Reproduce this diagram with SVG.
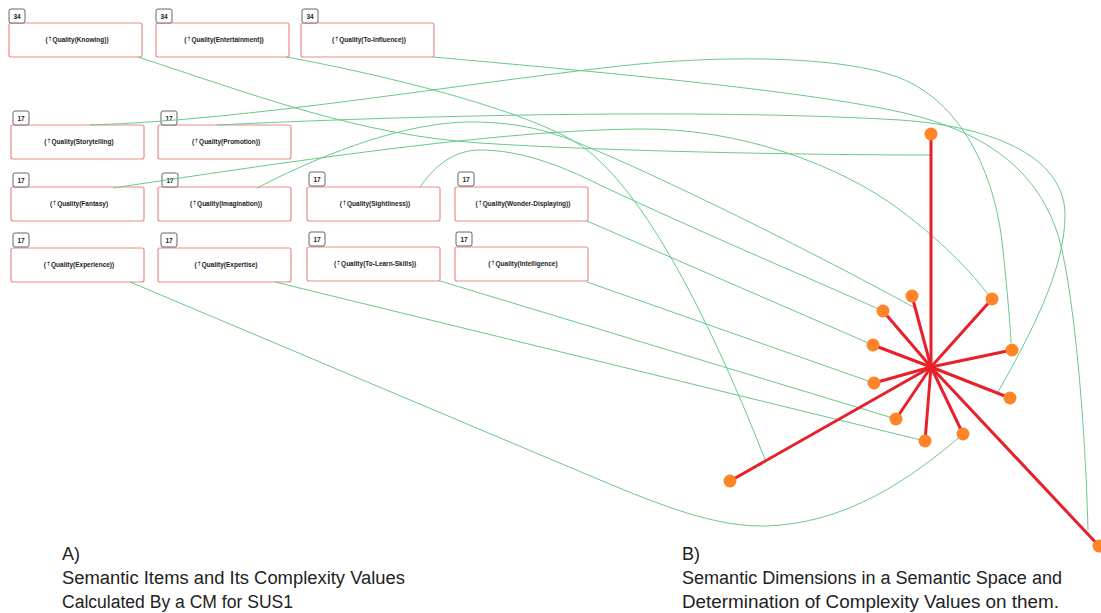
<svg xmlns="http://www.w3.org/2000/svg" width="1101" height="613" viewBox="0 0 1101 613">
<style>
.box{fill:#fff;stroke:#ef8a8a;stroke-width:1.2}
.badge{fill:#fff;stroke:#666;stroke-width:1}
.lbl{font-family:"Liberation Sans",Arial,sans-serif;font-size:6.5px;font-weight:bold;fill:#222;text-anchor:middle}
.sup{font-size:6px;font-weight:normal;font-family:"DejaVu Sans",sans-serif}
.num{font-family:"Liberation Sans",Arial,sans-serif;font-size:6.5px;font-weight:bold;fill:#222;text-anchor:middle}
.conn{fill:none;stroke:#68c987;stroke-width:1}
.spoke{stroke:#e8202a;stroke-width:3;stroke-linecap:round}
.dot{fill:#ff8427}
.cap{font-family:"Liberation Sans",Arial,sans-serif;font-size:18px;fill:#222}
</style>
<rect width="1101" height="613" fill="#fff"/>

<g id="node-knowing"><rect class="box" x="9" y="23" width="133" height="34" rx="2"/><rect class="badge" x="9" y="9" width="16" height="14" rx="2"/><text class="num" x="17" y="18.5">34</text><text class="lbl" x="77" y="42">(<tspan class="sup" dy="-1.5">↑</tspan><tspan dy="1.5">Quality(Knowing))</tspan></text></g>
<g id="node-entertainment"><rect class="box" x="156" y="23" width="133" height="34" rx="2"/><rect class="badge" x="156" y="9" width="16" height="14" rx="2"/><text class="num" x="164" y="18.5">34</text><text class="lbl" x="224" y="42">(<tspan class="sup" dy="-1.5">↑</tspan><tspan dy="1.5">Quality(Entertainment))</tspan></text></g>
<g id="node-to-influence"><rect class="box" x="301" y="23" width="133" height="34" rx="2"/><rect class="badge" x="302" y="9" width="16" height="14" rx="2"/><text class="num" x="310" y="18.5">34</text><text class="lbl" x="369" y="42">(<tspan class="sup" dy="-1.5">↑</tspan><tspan dy="1.5">Quality(To-Influence))</tspan></text></g>

<g id="node-storytelling"><rect class="box" x="11" y="125" width="133" height="34" rx="2"/><rect class="badge" x="13" y="111" width="16" height="14" rx="2"/><text class="num" x="21" y="120.5">17</text><text class="lbl" x="79" y="144">(<tspan class="sup" dy="-1.5">↑</tspan><tspan dy="1.5">Quality(Storytelling)</tspan></text></g>
<g id="node-promotion"><rect class="box" x="158" y="125" width="133" height="34" rx="2"/><rect class="badge" x="161" y="111" width="16" height="14" rx="2"/><text class="num" x="169" y="120.5">17</text><text class="lbl" x="226" y="144">(<tspan class="sup" dy="-1.5">↑</tspan><tspan dy="1.5">Quality(Promotion))</tspan></text></g>

<g id="node-fantasy"><rect class="box" x="11" y="187" width="133" height="34" rx="2"/><rect class="badge" x="13" y="173" width="16" height="14" rx="2"/><text class="num" x="21" y="182.5">17</text><text class="lbl" x="79" y="206">(<tspan class="sup" dy="-1.5">↑</tspan><tspan dy="1.5">Quality(Fantasy)</tspan></text></g>
<g id="node-imagination"><rect class="box" x="158" y="187" width="133" height="34" rx="2"/><rect class="badge" x="162" y="173" width="16" height="14" rx="2"/><text class="num" x="170" y="182.5">17</text><text class="lbl" x="226" y="206">(<tspan class="sup" dy="-1.5">↑</tspan><tspan dy="1.5">Quality(Imagination))</tspan></text></g>
<g id="node-sightliness"><rect class="box" x="307" y="187" width="133" height="34" rx="2"/><rect class="badge" x="309" y="172" width="16" height="14" rx="2"/><text class="num" x="317" y="181.5">17</text><text class="lbl" x="375" y="206">(<tspan class="sup" dy="-1.5">↑</tspan><tspan dy="1.5">Quality(Sightliness))</tspan></text></g>
<g id="node-wonder-displaying"><rect class="box" x="455" y="187" width="133" height="34" rx="2"/><rect class="badge" x="458" y="172" width="16" height="14" rx="2"/><text class="num" x="466" y="181.5">17</text><text class="lbl" x="523" y="206">(<tspan class="sup" dy="-1.5">↑</tspan><tspan dy="1.5">Quality(Wonder-Displaying))</tspan></text></g>

<g id="node-experience"><rect class="box" x="11" y="248" width="133" height="34" rx="2"/><rect class="badge" x="13" y="233" width="16" height="14" rx="2"/><text class="num" x="21" y="242.5">17</text><text class="lbl" x="79" y="267">(<tspan class="sup" dy="-1.5">↑</tspan><tspan dy="1.5">Quality(Experience))</tspan></text></g>
<g id="node-expertise"><rect class="box" x="158" y="248" width="133" height="34" rx="2"/><rect class="badge" x="161" y="233" width="16" height="14" rx="2"/><text class="num" x="169" y="242.5">17</text><text class="lbl" x="226" y="267">(<tspan class="sup" dy="-1.5">↑</tspan><tspan dy="1.5">Quality(Expertise)</tspan></text></g>
<g id="node-to-learn-skills"><rect class="box" x="307" y="247" width="133" height="34" rx="2"/><rect class="badge" x="309" y="232" width="16" height="14" rx="2"/><text class="num" x="317" y="241.5">17</text><text class="lbl" x="375" y="266">(<tspan class="sup" dy="-1.5">↑</tspan><tspan dy="1.5">Quality(To-Learn-Skills))</tspan></text></g>
<g id="node-intelligence"><rect class="box" x="455" y="247" width="133" height="34" rx="2"/><rect class="badge" x="456" y="232" width="16" height="14" rx="2"/><text class="num" x="464" y="241.5">17</text><text class="lbl" x="523" y="266">(<tspan class="sup" dy="-1.5">↑</tspan><tspan dy="1.5">Quality(Intelligence)</tspan></text></g>

<g id="connectors">
<path class="conn" d="M138,57 C260,97 360,135 480,143 S800,155 931,155"/>
<path class="conn" d="M286,57 C386,75 540,113 587,150 C660,207 730,370 766,462"/>
<path class="conn" d="M433,57 C600,72 800,90 900,112 C990,132 1045,175 1062,250 C1075,310 1085,420 1088,530"/>
<path class="conn" d="M90,125 C250,120 450,85 620,66 C720,55 840,55 900,78 C960,102 995,170 1003,250 C1007,290 1010,320 1011,343"/>
<path class="conn" d="M217,125 C400,116 700,108 900,120 C1000,127 1065,160 1065,215 C1065,270 1030,335 998,392"/>
<path class="conn" d="M113,188 C300,160 500,130 640,129 C740,128 840,165 900,210 C940,240 970,270 990,297"/>
<path class="conn" d="M257,188 C330,150 410,122 470,122 C530,122 560,135 600,152 C700,195 850,272 915,308"/>
<path class="conn" d="M420,187 C435,165 455,150 480,150 C520,150 560,165 600,185 C700,232 800,274 883,311"/>
<path class="conn" d="M587,221 L873,345"/>
<path class="conn" d="M587,282 L874,383"/>
<path class="conn" d="M440,281 L896,419"/>
<path class="conn" d="M275,282 L925,441"/>
<path class="conn" d="M130,282 L600,480 C660,505 715,527 765,526 C845,524 910,480 963,434"/>
</g>

<g id="semantic-space">
<g id="spokes">
<line class="spoke" x1="931" y1="367" x2="931" y2="134"/>
<line class="spoke" x1="931" y1="367" x2="912" y2="296"/>
<line class="spoke" x1="931" y1="367" x2="883" y2="311"/>
<line class="spoke" x1="931" y1="367" x2="873" y2="345"/>
<line class="spoke" x1="931" y1="367" x2="874" y2="383"/>
<line class="spoke" x1="931" y1="367" x2="896" y2="419"/>
<line class="spoke" x1="931" y1="367" x2="925" y2="441"/>
<line class="spoke" x1="931" y1="367" x2="963" y2="434"/>
<line class="spoke" x1="931" y1="367" x2="1010" y2="398"/>
<line class="spoke" x1="931" y1="367" x2="1012" y2="350"/>
<line class="spoke" x1="931" y1="367" x2="992" y2="299"/>
<line class="spoke" x1="931" y1="367" x2="730" y2="481"/>
<line class="spoke" x1="931" y1="367" x2="1099" y2="546"/>
</g>
<g id="dimension-points">
<circle class="dot" cx="931" cy="134" r="6.5"/>
<circle class="dot" cx="912" cy="296" r="6.5"/>
<circle class="dot" cx="883" cy="311" r="6.5"/>
<circle class="dot" cx="873" cy="345" r="6.5"/>
<circle class="dot" cx="874" cy="383" r="6.5"/>
<circle class="dot" cx="896" cy="419" r="6.5"/>
<circle class="dot" cx="925" cy="441" r="6.5"/>
<circle class="dot" cx="963" cy="434" r="6.5"/>
<circle class="dot" cx="1010" cy="398" r="6.5"/>
<circle class="dot" cx="1012" cy="350" r="6.5"/>
<circle class="dot" cx="992" cy="299" r="6.5"/>
<circle class="dot" cx="730" cy="481" r="6.5"/>
<circle class="dot" cx="1099" cy="546" r="6.5"/>
</g>
</g>

<g id="caption-a">
<text class="cap" x="62" y="560">A)</text>
<text class="cap" x="62" y="584" textLength="343" lengthAdjust="spacingAndGlyphs">Semantic Items and Its Complexity Values</text>
<text class="cap" x="62" y="608" textLength="231" lengthAdjust="spacingAndGlyphs">Calculated By a CM for SUS1</text>
</g>
<g id="caption-b">
<text class="cap" x="682" y="560">B)</text>
<text class="cap" x="682" y="584" textLength="380" lengthAdjust="spacingAndGlyphs">Semantic Dimensions in a Semantic Space and</text>
<text class="cap" x="682" y="608" textLength="377" lengthAdjust="spacingAndGlyphs">Determination of Complexity Values on them.</text>
</g>
</svg>
